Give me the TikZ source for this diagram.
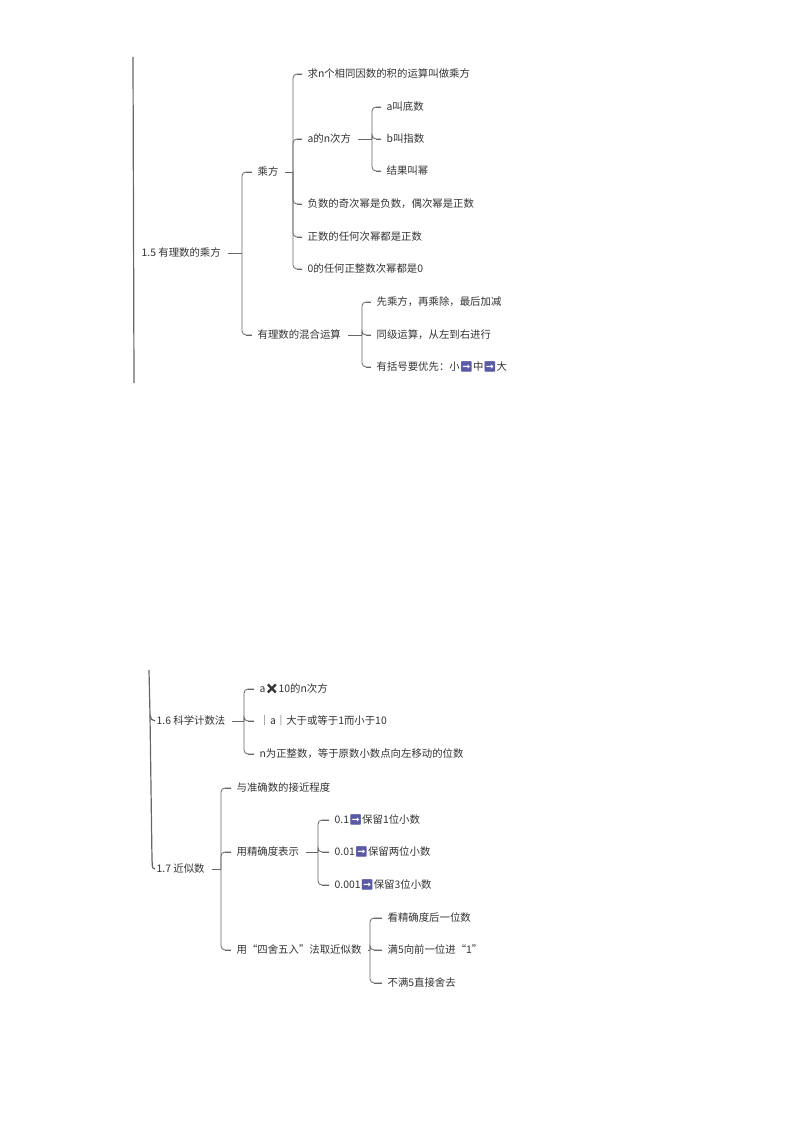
\documentclass[tikz,border=0pt]{standalone}
\usepackage{fontspec}
\setmainfont{Noto Sans CJK SC}
\newfontfamily\emj{Noto Emoji}
\usetikzlibrary{positioning}
\newcommand{\arr}{{\emj\textcolor{gray!70!blue}{➡}}}

\tikzset{
	topic/.style={anchor=west, inner sep=1pt, font=\fontsize{7.8}{9}\selectfont, text=black!80},
	link/.style={draw=black!60, line width=0.6pt, rounded corners=3pt},
	spine/.style={draw=black!60, line width=0.9pt}
}

% parent -> bracket at x=#2 -> children
\def\branch(#1)#2#3{%
	\draw[link] ([xshift=4]#1.east) -- (#2,0 |- #1.east); % stem
	\foreach \c in {#3} {%
		\draw[link] (#2,0 |- #1.east) |- ([xshift=-3]\c.west);
		\draw[link, sharp corners] ([xshift=3]#2,0 |- \c.west) -- ([xshift=-3]\c.west);}
}

\begin{document}
\begin{tikzpicture}[x=0.75pt,y=-0.75pt]
\useasboundingbox (0,0) rectangle (794,1123);

% ---- 1.5
\node[topic] (r15) at (140,253) {1.5 有理数的乘方};
\node[topic] (cf) at (256,172) {乘方};
\node[topic] (hh) at (256,335) {有理数的混合运算};
\node[topic] (c1) at (306,74) {求n个相同因数的积的运算叫做乘方};
\node[topic] (c2) at (306,139) {a的n次方};
\node[topic] (c3) at (306,204) {负数的奇次幂是负数，偶次幂是正数};
\node[topic] (c4) at (306,237) {正数的任何次幂都是正数};
\node[topic] (c5) at (306,269) {0的任何正整数次幂都是0};
\node[topic] (d1) at (385,107) {a叫底数};
\node[topic] (d2) at (385,139) {b叫指数};
\node[topic] (d3) at (385,171) {结果叫幂};
\node[topic] (h1) at (375,302) {先乘方，再乘除，最后加减};
\node[topic] (h2) at (375,335) {同级运算，从左到右进行};
\node[topic] (h3) at (375,367) {有括号要优先：小\arr 中\arr 大};

\draw[spine] (133,57) -- (134,383); % left bar
\branch(r15){242}{cf,hh}
\branch(cf){293}{c1,c2,c3,c4,c5}
\branch(c2){372}{d1,d2,d3}
\branch(hh){362}{h1,h2,h3}

% ---- 1.6 / 1.7
\node[topic] (r16) at (155,721) {1.6 科学计数法};
\node[topic] (k1) at (258,689) {a{\emj ✖}10的n次方};
\node[topic] (k2) at (258,721) {｜a｜大于或等于1而小于10};
\node[topic] (k3) at (258,754) {n为正整数，等于原数小数点向左移动的位数};
\node[topic] (r17) at (155,869) {1.7 近似数};
\node[topic] (j1) at (235,788) {与准确数的接近程度};
\node[topic] (j2) at (235,852) {用精确度表示};
\node[topic] (j3) at (235,950) {用“四舍五入”法取近似数};
\node[topic] (p1) at (333,820) {0.1\arr 保留1位小数};
\node[topic] (p2) at (333,852) {0.01\arr 保留两位小数};
\node[topic] (p3) at (333,885) {0.001\arr 保留3位小数};
\node[topic] (q1) at (386,918) {看精确度后一位数};
\node[topic] (q2) at (386,950) {满5向前一位进“1”};
\node[topic] (q3) at (386,983) {不满5直接舍去};

\draw[spine] (149,670) -- (150,715) to[out=-88,in=180] (r16.west); % left bar
\draw[spine] (150,715) -- (152,860) to[out=-80,in=180] (r17.west);
\branch(r16){244}{k1,k2,k3}
\branch(r17){221}{j1,j2,j3}
\branch(j2){318}{p1,p2,p3}
\branch(j3){370}{q1,q2,q3}
\end{tikzpicture}
\end{document}
